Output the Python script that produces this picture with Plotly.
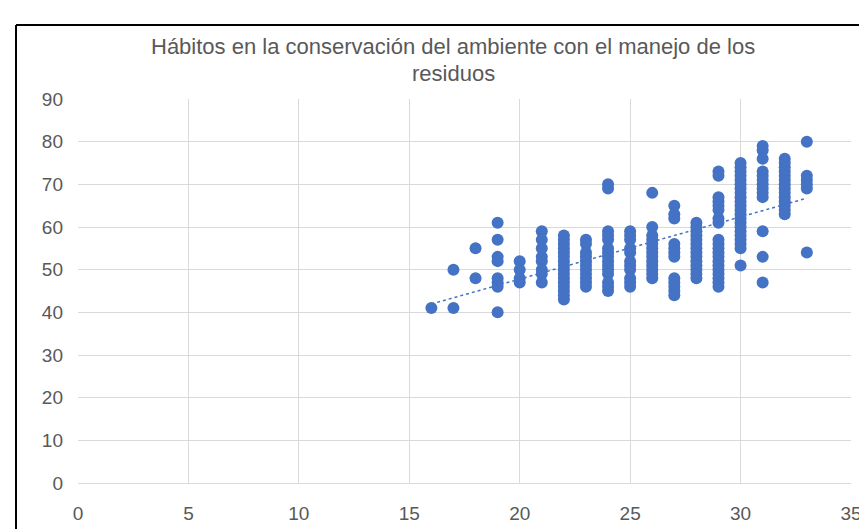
import numpy as np
import plotly.graph_objects as go

title_line1 = "Hábitos en la conservación del ambiente con el manejo de los"
title_line2 = "residuos"

# Values read per x column
y16 = [41]
y17 = [50, 41]
y18 = [55, 48]
y19 = [61, 57, 53, 52, 48, 47, 46, 40]
y20 = [52, 50, 48, 47]
y21 = [59, 57, 55, 53, 52, 50, 49, 47]
y22 = [58, 57, 56, 55, 54, 53, 52, 51, 50, 49, 48, 47, 46, 45, 44, 43]
y23 = [57, 56, 54, 53, 52, 51, 50, 49, 48, 47, 46]
y24 = [70, 69, 59, 58, 57, 55, 54, 53, 52, 51, 50, 49, 47, 46, 45]
y25 = [59, 58, 57, 55, 54, 52, 51, 50, 48, 47, 46]
y26 = [68, 60, 58, 57, 56, 55, 54, 53, 52, 51, 50, 49, 48]
y27 = [65, 63, 62, 56, 55, 54, 53, 48, 47, 46, 45, 44]
y28 = [61, 60, 59, 58, 57, 56, 55, 54, 53, 52, 51, 50, 49, 48]
y29 = [73, 72, 67, 66, 65, 64, 62, 61, 57, 56, 55, 54, 53, 52, 51, 50, 49, 48, 47, 46]
y30 = [75, 74, 73, 72, 71, 70, 69, 68, 67, 66, 65, 64, 63, 62, 61, 60, 59, 58, 57, 56, 55, 51]
y31 = [79, 78, 76, 73, 72, 71, 70, 69, 68, 67, 59, 53, 47]
y32 = [76, 75, 74, 73, 72, 71, 70, 69, 68, 67, 66, 65, 64, 63]
y33 = [80, 72, 71, 70, 69, 54]

x_columns = list(range(16, 34))
y_columns = [y16, y17, y18, y19, y20, y21, y22, y23, y24, y25, y26, y27, y28,
             y29, y30, y31, y32, y33]

x_ticks = [0, 5, 10, 15, 20, 25, 30, 35]
y_ticks = [0, 10, 20, 30, 40, 50, 60, 70, 80, 90]

xs, ys = [], []
for xv, col in zip(x_columns, y_columns):
    xs.extend([xv] * len(col))
    ys.extend(col)
xs = np.array(xs, dtype=float)
ys = np.array(ys, dtype=float)

slope, intercept = np.polyfit(xs, ys, 1)
trend_x = np.array([xs.min(), xs.max()])
trend_y = slope * trend_x + intercept

BLUE = "#4472C4"
GRID = "#D9D9D9"
TXT = "#595959"
FONT = "Liberation Sans, Arial, sans-serif"

fig = go.Figure()
fig.add_trace(go.Scatter(x=xs, y=ys, mode="markers",
                         marker=dict(color=BLUE, size=12, line=dict(width=0)),
                         showlegend=False))
fig.add_trace(go.Scatter(x=trend_x, y=trend_y, mode="lines",
                         line=dict(color=BLUE, width=1.5, dash="dot"),
                         showlegend=False))

L, R, T, B = 70, 24, 91, 54
W, H = 867, 529
pw, ph = W - L - R, H - T - B

def px_x(p):
    return (p - L) / pw

def px_y(p):
    return (H - B - p) / ph

fig.update_layout(
    width=W, height=H,
    margin=dict(l=L, r=R, t=T, b=B),
    paper_bgcolor="white", plot_bgcolor="white",
    font=dict(family=FONT, color=TXT, size=19),
    xaxis=dict(range=[0, 35], tickvals=x_ticks, showgrid=True, gridcolor=GRID,
               gridwidth=1, zeroline=False, showline=True, linecolor=GRID,
               ticks="", ticklabelstandoff=13, fixedrange=True),
    yaxis=dict(range=[0, 90], tickvals=y_ticks, showgrid=True, gridcolor=GRID,
               gridwidth=1, zeroline=False, showline=False,
               ticks="", ticklabelstandoff=14, fixedrange=True),
    annotations=[
        dict(text=title_line1, xref="paper", yref="paper", x=px_x(445), y=px_y(39),
             xanchor="center", yanchor="middle", showarrow=False,
             font=dict(family=FONT, size=22, color=TXT)),
        dict(text=title_line2, xref="paper", yref="paper", x=px_x(445), y=px_y(65),
             xanchor="center", yanchor="middle", showarrow=False,
             font=dict(family=FONT, size=22, color=TXT)),
    ],
    shapes=[
        dict(type="line", xref="paper", yref="paper",
             x0=px_x(8), x1=px_x(8), y0=px_y(17), y1=px_y(529),
             line=dict(color="black", width=2)),
        dict(type="line", xref="paper", yref="paper",
             x0=px_x(8), x1=px_x(867), y0=px_y(17), y1=px_y(17),
             line=dict(color="black", width=2)),
    ],
)

fig.write_html("out.html")
